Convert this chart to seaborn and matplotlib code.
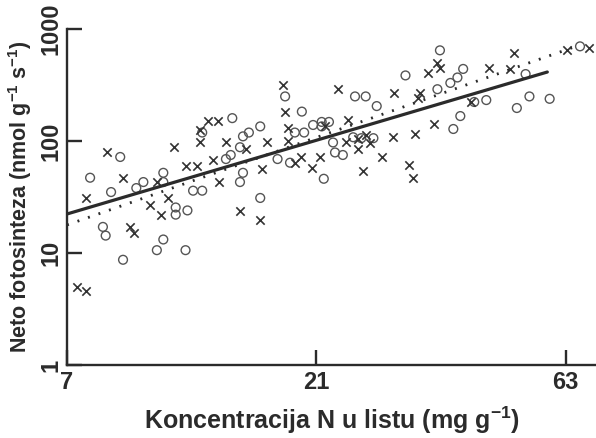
import matplotlib
matplotlib.use("Agg")
import matplotlib.pyplot as plt
import seaborn as sns
import pandas as pd

# ---- data (x: leaf N, mg/g; y: net photosynthesis, nmol/g/s)
circle_x = [8.85, 7.75, 8.5, 9.5, 9.8, 10.7, 10.7, 12.7, 11.3, 11.3, 11.9, 12.2, 12.7,
            8.2, 8.3, 10.7, 10.4, 11.8, 8.96, 18.3, 19.7, 14.5, 16.4, 15.6, 15.2, 19.1,
            19.9, 20.7, 21.5, 21.5, 22.2, 15.0, 14.4, 14.1, 22.6, 22.8, 17.7, 18.7, 21.7,
            15.2, 15.0, 16.4, 36.2, 31.1, 40.1, 39.1, 37.9, 24.9, 26.1, 35.8, 27.4, 39.6,
            38.4, 24.7, 25.6, 27.0, 23.6, 42.1, 44.4, 50.8, 53.7, 58.7, 52.8, 67.1]
circle_y = [72, 47, 35, 38, 43, 52, 43, 119, 25.5, 22, 24, 36, 36,
            17.1, 14.3, 13.2, 10.6, 10.6, 8.7, 250, 183, 160, 135, 119, 110, 119,
            119, 139, 148, 135, 148, 88, 75, 69, 97, 79, 69, 64, 46,
            52, 43, 31, 645, 385, 440, 369, 330, 250, 250, 290, 205, 167,
            128, 108, 106, 106, 75, 223, 232, 197, 250, 238, 396, 700]

cross_x = [8.35, 8.96, 7.6, 10.4, 11.2, 11.8, 12.4, 12.6, 12.6, 10.9, 10.1, 10.6, 9.24,
           9.4, 7.3, 7.6, 18.1, 18.3, 23.1, 13.0, 13.6, 14.1, 16.9, 18.5, 18.5, 21.8,
           15.4, 13.3, 19.1, 19.6, 21.3, 20.6, 16.5, 13.7, 15.0, 16.4, 35.8, 36.2, 34.4,
           29.6, 33.2, 32.8, 24.1, 35.3, 26.1, 25.2, 23.9, 29.4, 32.5, 26.6, 25.2, 28.1,
           25.8, 31.6, 32.2, 50.1, 45.0, 49.2, 41.6, 63.5, 69.7]
cross_y = [79, 47, 31, 43, 88, 60, 60, 125, 97, 31, 27, 22, 17.1,
           15.0, 5.0, 4.6, 313, 183, 294, 152, 152, 97, 97, 131, 101, 135,
           84, 68, 64, 72, 72, 57, 56, 43, 23.7, 19.7, 497, 447, 405,
           271, 268, 240, 155, 143, 114, 105, 98, 108, 115, 96, 85, 72,
           54, 61, 47, 611, 447, 440, 223, 655, 680]

# regression lines (end points)
solid_x = [7.0, 58.1]
solid_y = [22.3, 413]
dotted_x = [7.0, 65.5]
dotted_y = [17.8, 692]

x_ticks = [7, 21, 63]
y_ticks = [1, 10, 100, 1000]
y_tick_labels = ["1", "10", "100", "1000"]

# ---- style
sns.set_style("ticks")
plt.rcParams["font.family"] = ["Liberation Sans", "DejaVu Sans"]
plt.rcParams["font.weight"] = "bold"
plt.rcParams["mathtext.fontset"] = "custom"
plt.rcParams["mathtext.rm"] = "Liberation Sans:bold"
plt.rcParams["mathtext.bf"] = "Liberation Sans:bold"
plt.rcParams["mathtext.default"] = "rm"

ink = "#2b2b2b"
fig = plt.figure(figsize=(5.96, 4.38), dpi=100)
ax = fig.add_axes([67 / 596, 73 / 438, 529 / 596, 336 / 438])

circ = pd.DataFrame({"x": circle_x, "y": circle_y})
crs = pd.DataFrame({"x": cross_x, "y": cross_y})
sol = pd.DataFrame({"x": solid_x, "y": solid_y})
dot = pd.DataFrame({"x": dotted_x, "y": dotted_y})

sns.scatterplot(data=circ, x="x", y="y", ax=ax, marker="o", s=40,
                facecolor="none", edgecolor="#555555", linewidth=1.0, zorder=3)
sns.scatterplot(data=crs, x="x", y="y", ax=ax, marker="x", s=36,
                color="#333333", linewidth=1.2, zorder=3)
sns.lineplot(data=sol, x="x", y="y", ax=ax, color=ink, linewidth=2.3, zorder=4)
l2 = sns.lineplot(data=dot, x="x", y="y", ax=ax, color=ink, linewidth=2.0, zorder=4)
l2.lines[-1].set_dashes((0.7, 3.3))

ax.set_xscale("log")
ax.set_yscale("log")
ax.set_xlim(7, 72)
ax.set_ylim(1, 1000)
ax.set_xticks(x_ticks)
ax.set_xticklabels([str(t) for t in x_ticks])
ax.set_yticks(y_ticks)
ax.set_yticklabels(y_tick_labels, rotation=90, va="center")
ax.minorticks_off()

for s in ["top", "right"]:
    ax.spines[s].set_visible(False)
for s in ["left", "bottom"]:
    ax.spines[s].set_linewidth(1.7)
    ax.spines[s].set_color(ink)

ax.tick_params(axis="both", direction="in", length=11, width=1.7, color=ink,
               labelsize=17, labelcolor=ink)
ax.tick_params(axis="x", pad=4)
ax.tick_params(axis="y", pad=3)
for lab in ax.get_xticklabels() + ax.get_yticklabels():
    lab.set_fontweight("bold")

ax.set_xlabel("Koncentracija N u listu (mg g$^{-1}$)", fontsize=18,
              fontweight="bold", color=ink, labelpad=8)
ax.set_ylabel("Neto fotosinteza (nmol g$^{-1}$ s$^{-1}$)", fontsize=15.5,
              fontweight="bold", color=ink, labelpad=4)

fig.savefig("out.png", dpi=100)
